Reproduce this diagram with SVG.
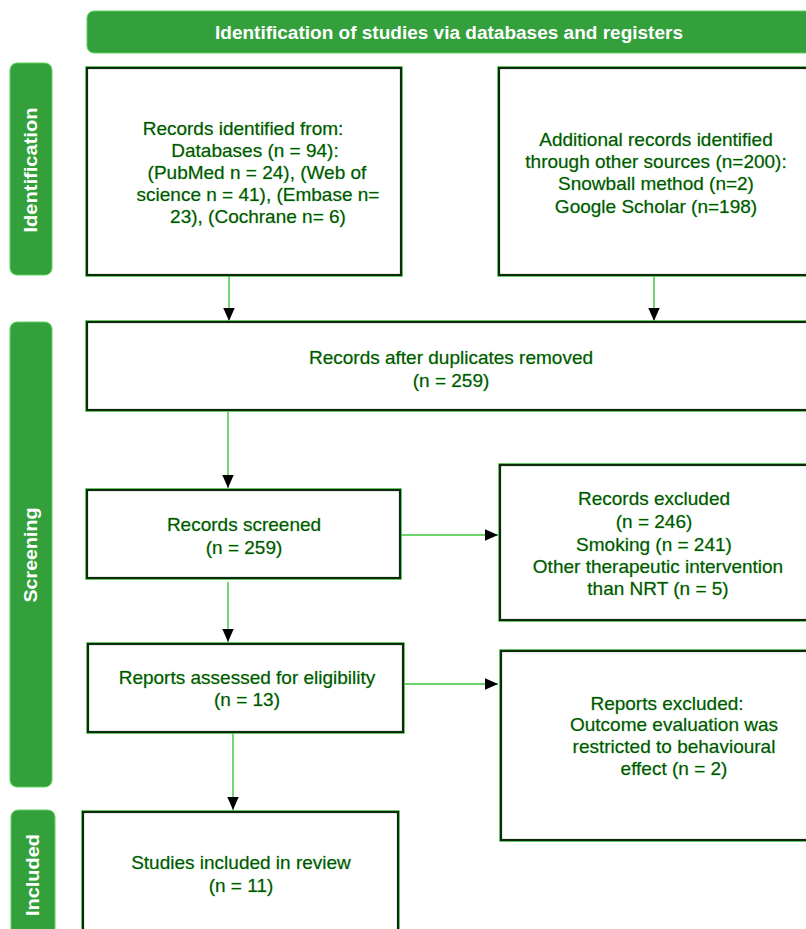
<svg xmlns="http://www.w3.org/2000/svg" width="806" height="929" viewBox="0 0 806 929">
<style>
.bar{fill:#33a03b;stroke:#5fd35f;stroke-width:1}
.box{fill:#fff;stroke:#0d2a0d;stroke-width:2.2}
.boxg{fill:none;stroke:#4cd04c;stroke-width:3.6}
.t{font-family:"Liberation Sans",Arial,sans-serif;font-size:19px;fill:#085208;text-anchor:middle;dominant-baseline:central;stroke:#6fdc6f;stroke-width:0.5;paint-order:stroke}
.h{font-family:"Liberation Sans",Arial,sans-serif;font-size:18px;font-weight:bold;fill:#fff;text-anchor:middle;dominant-baseline:central}
.c{stroke:#3cc43c;stroke-width:1.4;fill:none}
</style>
<defs>
<marker id="ah" viewBox="0 0 10 10" refX="10" refY="5" markerWidth="13" markerHeight="13" markerUnits="userSpaceOnUse" orient="auto">
<path d="M0,0.6 L10,5 L0,9.4 Z" fill="#000"/>
</marker>
</defs>
<rect width="806" height="929" fill="#fff"/>

<g id="header">
<rect class="bar" x="87" y="11" width="740" height="42" rx="7"/>
<text class="h" x="449" y="33" textLength="468" lengthAdjust="spacingAndGlyphs">Identification of studies via databases and registers</text>
</g>
<g id="lbl-identification">
<rect class="bar" x="10" y="63" width="42" height="212" rx="7"/>
<text class="h" transform="translate(31,170) rotate(-90)" x="0" y="0" textLength="125" lengthAdjust="spacingAndGlyphs">Identification</text>
</g>
<g id="lbl-screening">
<rect class="bar" x="10" y="322" width="42" height="465" rx="7"/>
<text class="h" transform="translate(31,555) rotate(-90)" x="0" y="0" textLength="95" lengthAdjust="spacingAndGlyphs">Screening</text>
</g>
<g id="lbl-included">
<rect class="bar" x="11" y="810" width="44" height="140" rx="7"/>
<text class="h" transform="translate(33,875) rotate(-90)" x="0" y="0" textLength="82" lengthAdjust="spacingAndGlyphs">Included</text>
</g>

<g id="connectors">
<line class="c" x1="229" y1="276" x2="229" y2="321" marker-end="url(#ah)"/>
<line class="c" x1="654" y1="277" x2="654" y2="321" marker-end="url(#ah)"/>
<line class="c" x1="228" y1="412" x2="228" y2="488" marker-end="url(#ah)"/>
<line class="c" x1="401" y1="535" x2="498" y2="535" marker-end="url(#ah)"/>
<line class="c" x1="228" y1="582" x2="228" y2="642" marker-end="url(#ah)"/>
<line class="c" x1="404" y1="684" x2="498" y2="684" marker-end="url(#ah)"/>
<line class="c" x1="233" y1="733" x2="233" y2="810" marker-end="url(#ah)"/>
</g>

<g id="n-databases">
<rect class="boxg" x="87" y="68" width="314" height="207"/>
<rect class="box" x="87" y="68" width="314" height="207"/>
<text class="t" x="243" y="128">Records identified from:</text>
<text class="t" x="255" y="150">Databases (n = 94):</text>
<text class="t" x="257" y="172">(PubMed n = 24), (Web of</text>
<text class="t" x="258" y="194">science n = 41), (Embase n=</text>
<text class="t" x="258" y="216">23), (Cochrane n= 6)</text>
</g>
<g id="n-other">
<rect class="boxg" x="499" y="68" width="320" height="207"/>
<rect class="box" x="499" y="68" width="320" height="207"/>
<text class="t" x="656" y="139">Additional records identified</text>
<text class="t" x="656" y="161">through other sources (n=200):</text>
<text class="t" x="656" y="183">Snowball method (n=2)</text>
<text class="t" x="656" y="206">Google Scholar (n=198)</text>
</g>
<g id="n-dedup">
<rect class="boxg" x="87" y="322" width="740" height="88"/>
<rect class="box" x="87" y="322" width="740" height="88"/>
<text class="t" x="451" y="357">Records after duplicates removed</text>
<text class="t" x="451" y="380">(n = 259)</text>
</g>
<g id="n-screened">
<rect class="boxg" x="87" y="490" width="313" height="88"/>
<rect class="box" x="87" y="490" width="313" height="88"/>
<text class="t" x="244" y="524">Records screened</text>
<text class="t" x="244" y="547">(n = 259)</text>
</g>
<g id="n-excluded1">
<rect class="boxg" x="500" y="465" width="320" height="155"/>
<rect class="box" x="500" y="465" width="320" height="155"/>
<text class="t" x="654" y="498">Records excluded</text>
<text class="t" x="654" y="521">(n = 246)</text>
<text class="t" x="654" y="544">Smoking (n = 241)</text>
<text class="t" x="658" y="566">Other therapeutic intervention</text>
<text class="t" x="658" y="588">than NRT (n = 5)</text>
</g>
<g id="n-assessed">
<rect class="boxg" x="88" y="644" width="315" height="88"/>
<rect class="box" x="88" y="644" width="315" height="88"/>
<text class="t" x="247" y="677">Reports assessed for eligibility</text>
<text class="t" x="247" y="699">(n = 13)</text>
</g>
<g id="n-excluded2">
<rect class="boxg" x="501" y="651" width="320" height="189"/>
<rect class="box" x="501" y="651" width="320" height="189"/>
<text class="t" x="667" y="703">Reports excluded:</text>
<text class="t" x="674" y="724">Outcome evaluation was</text>
<text class="t" x="674" y="746">restricted to behavioural</text>
<text class="t" x="674" y="768">effect (n = 2)</text>
</g>
<g id="n-included">
<rect class="boxg" x="83" y="812" width="315" height="140"/>
<rect class="box" x="83" y="812" width="315" height="140"/>
<text class="t" x="241" y="862">Studies included in review</text>
<text class="t" x="241" y="885">(n = 11)</text>
</g>
</svg>
